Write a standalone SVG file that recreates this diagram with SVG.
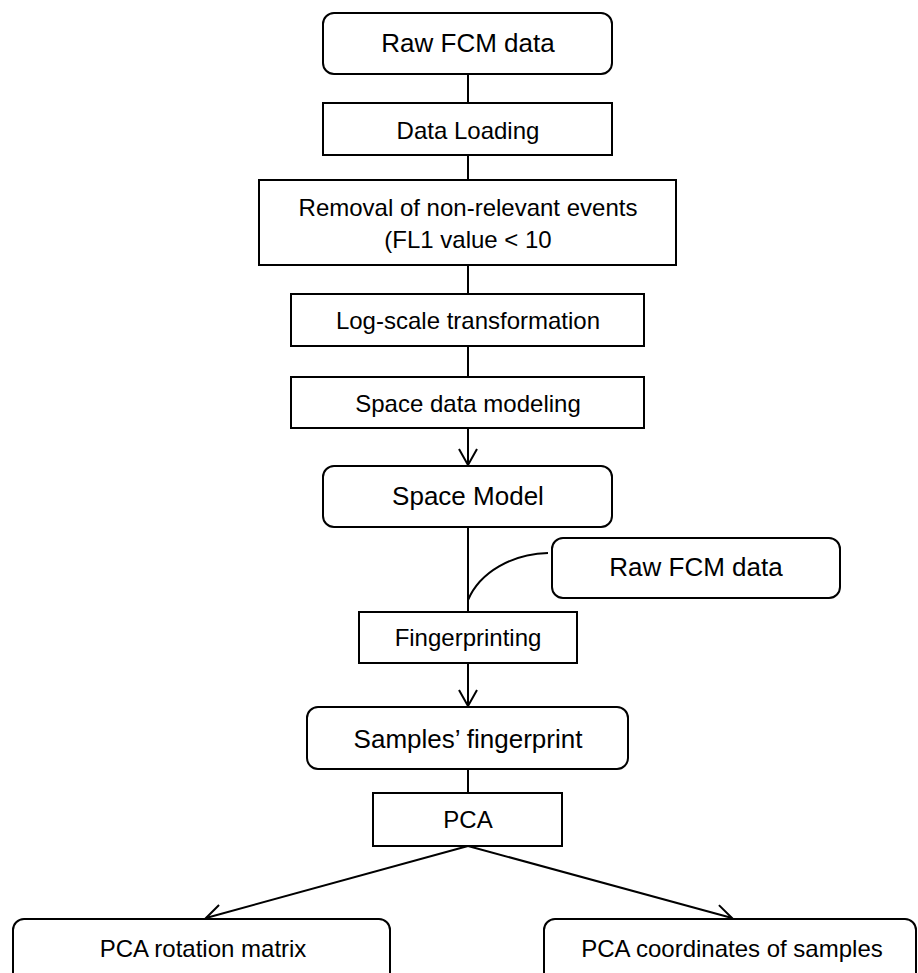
<svg xmlns="http://www.w3.org/2000/svg" width="918" height="973" viewBox="0 0 918 973">
<defs>
<style>
.box{fill:#fff;stroke:#000;stroke-width:2}
.ln{fill:none;stroke:#000;stroke-width:2}
.t{font-family:"Liberation Sans",Arial,sans-serif;fill:#000;text-anchor:middle}
.big{font-size:26px}
.sm{font-size:24px}
</style>
<marker id="arr" markerUnits="userSpaceOnUse" viewBox="0 0 20 20" markerWidth="20" markerHeight="20" refX="18" refY="10" orient="auto">
<path d="M2,1 L18,10 L2,19" fill="none" stroke="#000" stroke-width="2"/>
</marker>
</defs>
<rect width="918" height="973" fill="#fff"/>
<g id="connectors">
<line class="ln" x1="468" y1="74" x2="468" y2="103"/>
<line class="ln" x1="468" y1="155" x2="468" y2="180"/>
<line class="ln" x1="468" y1="265" x2="468" y2="294"/>
<line class="ln" x1="468" y1="346" x2="468" y2="377"/>
<line class="ln" x1="468" y1="428" x2="468" y2="465" marker-end="url(#arr)"/>
<line class="ln" x1="468" y1="527" x2="468" y2="612"/>
<path class="ln" d="M548,553 C512,554 480,572 468,600"/>
<line class="ln" x1="468" y1="663" x2="468" y2="706" marker-end="url(#arr)"/>
<line class="ln" x1="468" y1="769" x2="468" y2="793"/>
<line class="ln" x1="468" y1="846" x2="206" y2="918" marker-end="url(#arr)"/>
<line class="ln" x1="468" y1="846" x2="732" y2="918" marker-end="url(#arr)"/>
</g>
<g id="raw1">
<rect class="box" x="323" y="13" width="289" height="61" rx="11"/>
<text class="t big" x="468" y="52">Raw FCM data</text>
</g>
<g id="loading">
<rect class="box" x="323" y="103" width="289" height="52"/>
<text class="t sm" x="468" y="139">Data Loading</text>
</g>
<g id="removal">
<rect class="box" x="259" y="180" width="417" height="85"/>
<text class="t sm" x="468" y="216">Removal of non-relevant events</text>
<text class="t sm" x="468" y="248">(FL1 value &lt; 10</text>
</g>
<g id="logscale">
<rect class="box" x="291" y="294" width="353" height="52"/>
<text class="t sm" x="468" y="329">Log-scale transformation</text>
</g>
<g id="spacedata">
<rect class="box" x="291" y="377" width="353" height="51"/>
<text class="t sm" x="468" y="412">Space data modeling</text>
</g>
<g id="spacemodel">
<rect class="box" x="323" y="466" width="289" height="61" rx="11"/>
<text class="t big" x="468" y="505">Space Model</text>
</g>
<g id="raw2">
<rect class="box" x="552" y="538" width="288" height="60" rx="11"/>
<text class="t big" x="696" y="576">Raw FCM data</text>
</g>
<g id="fingerprinting">
<rect class="box" x="359" y="612" width="218" height="51"/>
<text class="t sm" x="468" y="646">Fingerprinting</text>
</g>
<g id="samples">
<rect class="box" x="307" y="707" width="321" height="62" rx="11"/>
<text class="t big" x="468" y="748">Samples’ fingerprint</text>
</g>
<g id="pca">
<rect class="box" x="373" y="793" width="189" height="53"/>
<text class="t sm" x="468" y="828">PCA</text>
</g>
<g id="rotation">
<rect class="box" x="13" y="919" width="377" height="80" rx="11"/>
<text class="t sm" x="203" y="957">PCA rotation matrix</text>
</g>
<g id="coords">
<rect class="box" x="544" y="919" width="372" height="80" rx="11"/>
<text class="t sm" x="732" y="957">PCA coordinates of samples</text>
</g>
</svg>
